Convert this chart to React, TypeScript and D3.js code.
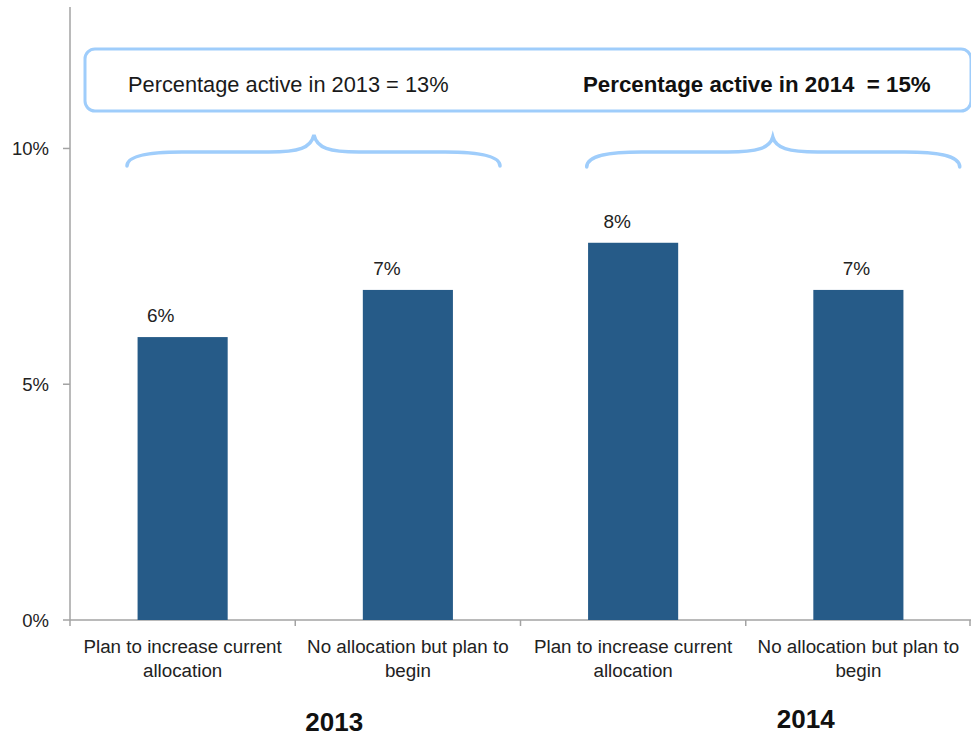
import React from "react";
import * as d3 from "d3";

const categories = ["2013-increase", "2013-begin", "2014-increase", "2014-begin"];
const categoryLines = [
  ["Plan to increase current", "allocation"],
  ["No allocation but plan to", "begin"],
  ["Plan to increase current", "allocation"],
  ["No allocation but plan to", "begin"],
];
const values = [6, 7, 8, 7];
const valueLabels = ["6%", "7%", "8%", "7%"];
const yTicks = [0, 5, 10];
const yTickLabels = ["0%", "5%", "10%"];
const years = ["2013", "2014"];
const activeTexts = ["Percentage active in 2013 = 13%", "Percentage active in 2014\u00a0 = 15%"];

// style constants
const W = 971;
const H = 738;
const labelDx = [-22, -21, -16, -2];
const FONT = "'Liberation Sans', Arial, Helvetica, sans-serif";
const BLUE_LIGHT = "#9fcdfb";
const BAR = "#265b88";
const AXIS = "#a3a3a3";

export default function App() {
  const x = d3.scaleBand<string>().domain(categories).range([70, 971]).paddingInner(0.6).paddingOuter(0.3);
  const band = d3.scaleBand<string>().domain(categories).range([70, 971]).padding(0);
  const y = d3.scaleLinear().domain([0, 13]).range([620, 7]);
  const bw = band.bandwidth();

  const brace = (x0: number, xt: number, x1: number, yT: number, yH: number, yE: number) =>
    `M${x0},${yE} C${x0},${yH + 3} ${x0 + 25},${yH} ${x0 + 55},${yH} L${xt - 45},${yH} C${xt - 15},${yH} ${xt - 3},${yH - 4} ${xt},${yT} C${xt + 3},${yH - 4} ${xt + 15},${yH} ${xt + 45},${yH} L${x1 - 55},${yH} C${x1 - 25},${yH} ${x1},${yH + 3} ${x1},${yE}`;

  const g0 = band(categories[0])!;
  const g1 = band(categories[2])!;
  const braces = [
    brace(g0 + 0.253 * bw, g0 + 1.083 * bw, g0 + 1.909 * bw, 135, 152, 166),
    brace(g1 + 0.294 * bw, g1 + 1.12 * bw, g1 + 1.95 * bw, 137, 152, 167),
  ];
  const yearX = [g0 + bw + 39, g1 + bw + 60];
  const yearY = [731, 728];

  return (
    <svg width={W} height={H} style={{ position: "absolute", left: 0, top: 0, fontFamily: FONT }}>
      <rect width={W} height={H} fill="#fff" />
      {/* box */}
      <rect x={85} y={49} width={886} height={62} rx={10} ry={10} fill="none" stroke={BLUE_LIGHT} strokeWidth={3} />
      <text x={128} y={92} fontSize={21.8} fill="#1a1a1a">{activeTexts[0]}</text>
      <text x={583} y={92} fontSize={22.3} fontWeight="bold" fill="#111">{activeTexts[1]}</text>
      {braces.map((d, i) => (
        <path key={i} d={d} fill="none" stroke={BLUE_LIGHT} strokeWidth={3.5} strokeLinecap="round" />
      ))}
      {/* axes */}
      <line x1={70} x2={70} y1={7} y2={620} stroke={AXIS} strokeWidth={1.5} />
      <line x1={70} x2={971} y1={620} y2={620} stroke={AXIS} strokeWidth={1.5} />
      {yTicks.map((t, i) => (
        <g key={t}>
          <line x1={63} x2={70} y1={y(t)} y2={y(t)} stroke={AXIS} strokeWidth={1.5} />
          <text x={49} y={y(t) + 6.5} textAnchor="end" fontSize={18.5} fill="#222">{yTickLabels[i]}</text>
        </g>
      ))}
      {categories.map((c) => (
        <line key={c} x1={band(c)!} x2={band(c)!} y1={620} y2={626} stroke={AXIS} strokeWidth={1.5} />
      ))}
      <line x1={970} x2={970} y1={620} y2={626} stroke={AXIS} strokeWidth={1.5} />
      {/* bars */}
      {categories.map((c, i) => (
        <rect key={c} x={x(c)!} y={y(values[i])} width={x.bandwidth()} height={y(0) - y(values[i])} fill={BAR} />
      ))}
      {categories.map((c, i) => (
        <text key={c} x={x(c)! + x.bandwidth() / 2 + labelDx[i]} y={y(values[i]) - 15} textAnchor="middle" fontSize={19} fill="#222">
          {valueLabels[i]}
        </text>
      ))}
      {categories.map((c, i) => (
        <text key={c} textAnchor="middle" fontSize={18.8} fill="#222">
          {categoryLines[i].map((l, j) => (
            <tspan key={j} x={band(c)! + bw / 2} y={653 + j * 24}>{l}</tspan>
          ))}
        </text>
      ))}
      {years.map((yr, i) => (
        <text key={yr} x={yearX[i]} y={yearY[i]} textAnchor="middle" fontSize={26} fontWeight="bold" fill="#111">{yr}</text>
      ))}
    </svg>
  );
}
